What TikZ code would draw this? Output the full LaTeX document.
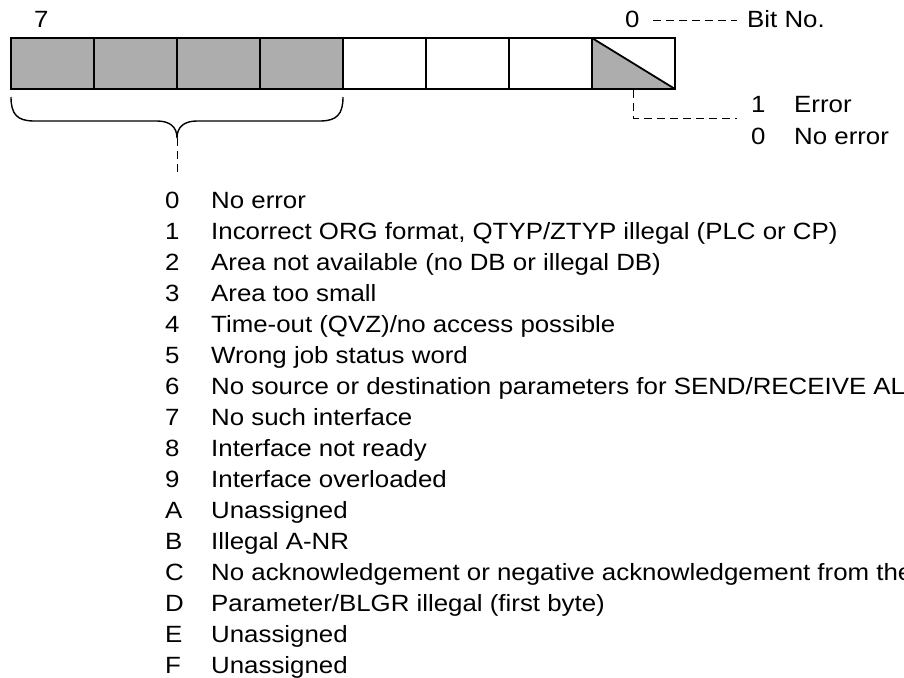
\documentclass[tikz,border=0pt]{standalone}
\usepackage{fontspec}
\setmainfont{Liberation Sans}[FakeStretch=1.1]
\begin{document}
\begin{tikzpicture}[x=1pt,y=-1pt,
  txt/.style={inner sep=0pt,anchor=base west,font=\fontsize{23.5}{28}\selectfont},
  cellbox/.style={draw=black,line width=1.8pt},
  shade/.style={fill=black!32},
  dashline/.style={draw=black,line width=0.9pt,dash pattern=on 8pt off 5pt},
  bracestyle/.style={draw=black,line width=1.4pt}]
\useasboundingbox (0,0) rectangle (904,677);
% shaded fields
\fill[shade] (11,38) rectangle (343,89);
\fill[shade] (592,38) -- (592,89) -- (675,89) -- cycle;
% cells
\foreach \i in {0,...,7} {
  \draw[cellbox] (11+\i*83,38) rectangle (94+\i*83,89);
}
\draw[cellbox] (592,38) -- (675,89);
% bit labels
\node[txt] (b7) at (34,28) {7};
\node[txt] (b0) at (625,28) {0};
\node[txt] (bitno) at (747,28) {Bit No.};
\coordinate (d0a) at (653,20);
\coordinate (d0b) at (737,20);
\draw[dashline] (d0a) -- (d0b);
% error bit
\coordinate (ebit) at (633,90);
\coordinate (ecorner) at (633,118);
\coordinate (eend) at (737,118);
\draw[dashline] (ebit) -- (ecorner) -- (eend);
\node[txt] (e1) at (751,112) {1};
\node[txt] (e1t) at (794,112) {Error};
\node[txt] (e0) at (751,144) {0};
\node[txt] (e0t) at (794,144) {No error};
% brace
\coordinate (btip) at (177,138);
\draw[bracestyle] (11,97) .. controls (11,114) and (17,121) .. (34,121) -- (157,121)
  .. controls (170,121) and (177,127) .. (btip)
  .. controls (177,127) and (184,121) .. (197,121) -- (320,121)
  .. controls (337,121) and (343,114) .. (343,97);
\coordinate (bend) at (177,173);
\draw[dashline] (btip) -- (bend);
% list
\def\ky#1{208+#1*31.05}
\node[txt] (k0) at (165,{\ky{0}}) {0};
\node[txt] (t0) at (211,{\ky{0}}) {No error};
\node[txt] (k1) at (165,{\ky{1}}) {1};
\node[txt] (t1) at (211,{\ky{1}}) {Incorrect ORG format, QTYP/ZTYP illegal (PLC or CP)};
\node[txt] (k2) at (165,{\ky{2}}) {2};
\node[txt] (t2) at (211,{\ky{2}}) {Area not available (no DB or illegal DB)};
\node[txt] (k3) at (165,{\ky{3}}) {3};
\node[txt] (t3) at (211,{\ky{3}}) {Area too small};
\node[txt] (k4) at (165,{\ky{4}}) {4};
\node[txt] (t4) at (211,{\ky{4}}) {Time-out (QVZ)/no access possible};
\node[txt] (k5) at (165,{\ky{5}}) {5};
\node[txt] (t5) at (211,{\ky{5}}) {Wrong job status word};
\node[txt] (k6) at (165,{\ky{6}}) {6};
\node[txt] (t6) at (211,{\ky{6}}) {No source or destination parameters for SEND/RECEIVE AL};
\node[txt] (k7) at (165,{\ky{7}}) {7};
\node[txt] (t7) at (211,{\ky{7}}) {No such interface};
\node[txt] (k8) at (165,{\ky{8}}) {8};
\node[txt] (t8) at (211,{\ky{8}}) {Interface not ready};
\node[txt] (k9) at (165,{\ky{9}}) {9};
\node[txt] (t9) at (211,{\ky{9}}) {Interface overloaded};
\node[txt] (k10) at (165,{\ky{10}}) {A};
\node[txt] (t10) at (211,{\ky{10}}) {Unassigned};
\node[txt] (k11) at (165,{\ky{11}}) {B};
\node[txt] (t11) at (211,{\ky{11}}) {Illegal A-NR};
\node[txt] (k12) at (165,{\ky{12}}) {C};
\node[txt] (t12) at (211,{\ky{12}}) {No acknowledgement or negative acknowledgement from the};
\node[txt] (k13) at (165,{\ky{13}}) {D};
\node[txt] (t13) at (211,{\ky{13}}) {Parameter/BLGR illegal (first byte)};
\node[txt] (k14) at (165,{\ky{14}}) {E};
\node[txt] (t14) at (211,{\ky{14}}) {Unassigned};
\node[txt] (k15) at (165,{\ky{15}}) {F};
\node[txt] (t15) at (211,{\ky{15}}) {Unassigned};
\end{tikzpicture}
\end{document}
